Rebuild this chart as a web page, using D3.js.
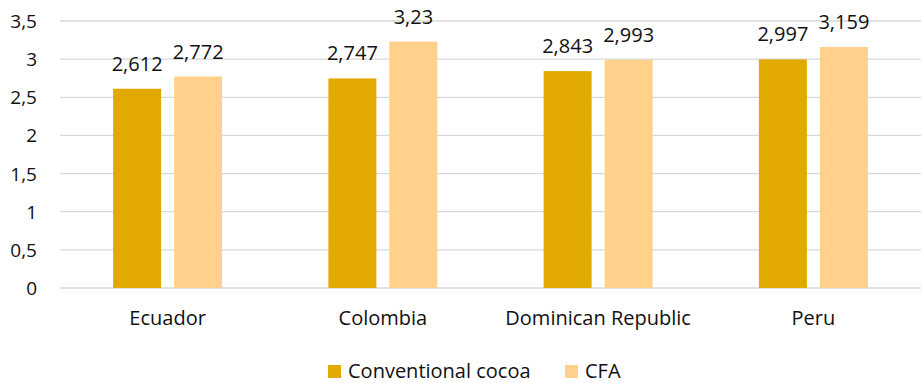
<!DOCTYPE html>
<html>
<head>
<meta charset="utf-8">
<script src="https://cdn.jsdelivr.net/npm/d3@7"></script>
<style>
  body { margin: 0; background: #fff; }
  svg { font-family: "Open Sans", sans-serif; }
</style>
</head>
<body>
<svg id="my_container" width="921" height="383"></svg>
<script>
var countries = ["Ecuador", "Colombia", "Dominican Republic", "Peru"];
var seriesNames = ["Conventional cocoa", "CFA"];
var conventional = [2.612, 2.747, 2.843, 2.997];
var cfa = [2.772, 3.23, 2.993, 3.159];
var yTicks = [0, 0.5, 1, 1.5, 2, 2.5, 3, 3.5];
var kleuren = ["#E2A900", "#FFD18A"];

var svg = d3.select("#my_container");
var plotLeft = 60, plotRight = 921, plotTop = 21, plotBottom = 288;
var fontSize = 20;
var tekstKleur = "#111";

var xScale = d3.scaleBand()
                .domain(countries)
                .range([plotLeft, plotRight]);
var yScale = d3.scaleLinear()
                .domain([0, 3.5])
                .range([plotBottom, plotTop]);
var fmt = function(v){ return String(v).replace(".", ","); };

// gridlines + y labels
svg.selectAll("line.grid")
    .data(yTicks)
    .enter()
    .append("line")
    .attr("class", "grid")
    .attr("x1", plotLeft)
    .attr("x2", plotRight)
    .attr("y1", function(d){ return yScale(d); })
    .attr("y2", function(d){ return yScale(d); })
    .attr("stroke", "#d9d9d9")
    .attr("stroke-width", 1.3);

svg.selectAll("text.ytick")
    .data(yTicks)
    .enter()
    .append("text")
    .attr("class", "ytick")
    .attr("x", 37)
    .attr("y", function(d){ return yScale(d) + 7; })
    .attr("text-anchor", "end")
    .attr("font-size", 19)
    .attr("fill", tekstKleur)
    .text(fmt);

var bw = 48, offset = 30.5;
var rows = countries.map(function(c, i){
    return [{c: c, v: conventional[i], s: 0}, {c: c, v: cfa[i], s: 1}];
});
var all = [].concat.apply([], rows);

svg.selectAll("rect.bar")
    .data(all)
    .enter()
    .append("rect")
    .attr("class", "bar")
    .attr("x", function(d){
        var cx = xScale(d.c) + xScale.bandwidth() / 2;
        return (d.s == 0 ? cx - offset : cx + offset) - bw / 2;
    })
    .attr("y", function(d){ return yScale(d.v); })
    .attr("width", bw)
    .attr("height", function(d){ return plotBottom - yScale(d.v); })
    .attr("fill", function(d){ return kleuren[d.s]; });

svg.selectAll("text.val")
    .data(all)
    .enter()
    .append("text")
    .attr("class", "val")
    .attr("x", function(d){
        var cx = xScale(d.c) + xScale.bandwidth() / 2;
        return d.s == 0 ? cx - offset : cx + offset;
    })
    .attr("y", function(d){ return yScale(d.v) - 18; })
    .attr("text-anchor", "middle")
    .attr("font-size", fontSize)
    .attr("fill", tekstKleur)
    .text(function(d){ return fmt(d.v); });

svg.selectAll("text.cat")
    .data(countries)
    .enter()
    .append("text")
    .attr("class", "cat")
    .attr("x", function(d){ return xScale(d) + xScale.bandwidth() / 2; })
    .attr("y", 325)
    .attr("text-anchor", "middle")
    .attr("font-size", fontSize)
    .attr("fill", tekstKleur)
    .text(function(d){ return d; });

// legend
var legendX = [328, 565];
var legend = svg.selectAll("g.legend")
    .data(seriesNames)
    .enter()
    .append("g")
    .attr("class", "legend")
    .attr("transform", function(d, i){ return "translate(" + legendX[i] + ",365)"; });
legend.append("rect")
    .attr("width", 13)
    .attr("height", 13)
    .attr("fill", function(d, i){ return kleuren[i]; });
legend.append("text")
    .attr("x", 20)
    .attr("y", 12.5)
    .attr("font-size", fontSize)
    .attr("fill", tekstKleur)
    .text(function(d){ return d; });
</script>
</body>
</html>
